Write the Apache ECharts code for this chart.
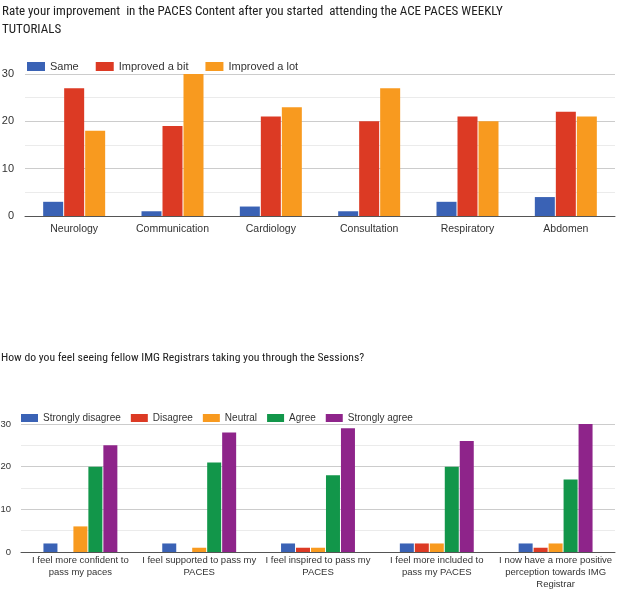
<!DOCTYPE html>
<html>
<head>
<meta charset="utf-8">
<script src="https://cdn.jsdelivr.net/npm/echarts@6/dist/echarts.min.js"></script>
<style>html,body{margin:0;padding:0;background:#fff}#c{width:619px;height:589px}</style>
</head>
<body>
<div id="c"></div>
<script>
// ---- Chart 1 data ----
const topCategories = ['Neurology', 'Communication', 'Cardiology', 'Consultation', 'Respiratory', 'Abdomen'];
const same = [3, 1, 2, 1, 3, 4];
const improvedBit = [27, 19, 21, 20, 21, 22];
const improvedLot = [18, 30, 23, 27, 20, 21];
const topSeriesNames = ['Same', 'Improved a bit', 'Improved a lot'];

// ---- Chart 2 data ----
const bottomCategories = [
  'I feel more confident to\npass my paces',
  'I feel supported to pass my\nPACES',
  'I feel inspired to pass my\nPACES',
  'I feel more included to\npass my PACES',
  'I now have a more positive\nperception towards IMG\nRegistrar'
];
const stronglyDisagree = [2, 2, 2, 2, 2];
const disagree = [0, 0, 1, 2, 1];
const neutral = [6, 1, 1, 2, 2];
const agree = [20, 21, 18, 20, 17];
const stronglyAgree = [25, 28, 29, 26, 30];
const bottomSeriesNames = ['Strongly disagree', 'Disagree', 'Neutral', 'Agree', 'Strongly agree'];

const yTicks = [0, 10, 20, 30];

const C = { blue: '#3a62b5', red: '#dc3a24', orange: '#f89a1f', green: '#12964a', purple: '#8e248a' };
const font = 'Arial, "Liberation Sans", sans-serif';
const titleFont = '"Liberation Sans Narrow", "Roboto Condensed", Roboto, sans-serif';

function yAxis(gridIndex, margin, fontSize) {
  return {
    gridIndex, type: 'value', min: 0, max: 30, interval: 5,
    axisLine: { show: false }, axisTick: { show: false },
    axisLabel: { margin, color: '#333', fontSize, fontFamily: font,
      formatter: v => yTicks.includes(v) ? String(v) : '' },
    splitLine: { lineStyle: { color: ['#cccccc', '#ebebeb'], width: 1 } }
  };
}
function xAxis(gridIndex, data, fontSize, lineHeight, margin) {
  return {
    gridIndex, type: 'category', data,
    axisLine: { lineStyle: { color: '#555', width: 1 } },
    axisTick: { show: false },
    axisLabel: { color: '#333', fontSize, fontFamily: font, interval: 0, margin, lineHeight }
  };
}

const chart = echarts.init(document.getElementById('c'), null, { renderer: 'canvas' });
const topVals = [same, improvedBit, improvedLot];
const topColors = [C.blue, C.red, C.orange];
const botVals = [stronglyDisagree, disagree, neutral, agree, stronglyAgree];
const botColors = [C.blue, C.red, C.orange, C.green, C.purple];

const series = [];
topSeriesNames.forEach((n, i) => series.push({
  name: n, type: 'bar', xAxisIndex: 0, yAxisIndex: 0, data: topVals[i],
  barWidth: 20, barGap: '5%', itemStyle: { color: topColors[i] }, emphasis: { disabled: true }
}));
bottomSeriesNames.forEach((n, i) => series.push({
  name: n, type: 'bar', xAxisIndex: 1, yAxisIndex: 1, data: botVals[i],
  barWidth: 14, barGap: '7%', itemStyle: { color: botColors[i] }, emphasis: { disabled: true }
}));

chart.setOption({
  animation: false,
  backgroundColor: '#fff',
  title: [
    { text: 'Rate your improvement  in the PACES Content after you started  attending the ACE PACES WEEKLY\nTUTORIALS',
      left: 2, top: 3, padding: 0,
      textStyle: { fontFamily: titleFont, fontWeight: 'normal', fontSize: 13, color: '#212121', lineHeight: 18 } },
    { text: 'How do you feel seeing fellow IMG Registrars taking you through the Sessions?',
      left: 1, top: 352, padding: 0,
      textStyle: { fontFamily: titleFont, fontWeight: 'normal', fontSize: 11.7, color: '#212121' } }
  ],
  legend: [
    { data: topSeriesNames, left: 27, top: 61, padding: 0, itemWidth: 18, itemHeight: 9, itemGap: 17,
      icon: 'rect', textStyle: { fontSize: 11, color: '#333', fontFamily: font }, selectedMode: false },
    { data: bottomSeriesNames, left: 21, top: 413, padding: 0, itemWidth: 17, itemHeight: 8, itemGap: 10,
      icon: 'rect', textStyle: { fontSize: 10, color: '#333', fontFamily: font }, selectedMode: false }
  ],
  grid: [
    { left: 25, right: 4, top: 74, height: 142, outerBoundsMode: 'none', containLabel: false },
    { left: 21, right: 4, top: 424, height: 128, outerBoundsMode: 'none', containLabel: false }
  ],
  xAxis: [xAxis(0, topCategories, 10.5, 13, 7), xAxis(1, bottomCategories, 9.5, 12, 2)],
  yAxis: [yAxis(0, 11, 11), yAxis(1, 10, 9.5)],
  series
});
</script>
</body>
</html>
